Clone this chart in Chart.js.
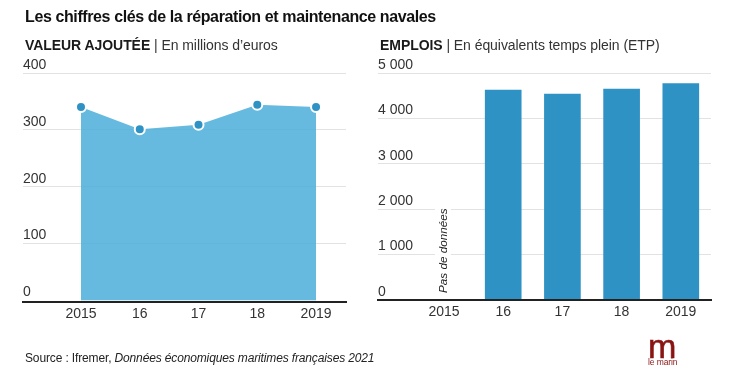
<!DOCTYPE html>
<html lang="fr">
<head>
<meta charset="utf-8">
<script src="https://cdn.jsdelivr.net/npm/chart.js@4/dist/chart.umd.min.js"></script>
<style>
html, body { margin: 0; padding: 0; background: #fff; }
body { width: 730px; height: 374px; position: relative; overflow: hidden; font-family: "Liberation Sans", Arial, sans-serif; }
canvas { position: absolute; top: 0; }
#chartValeur { left: 0; }
#chartEmplois { left: 365px; }
.txt { position: absolute; white-space: nowrap; z-index: 2; }
#title { left: 25px; top: 8px; font-size: 16px; font-weight: bold; color: #111; letter-spacing: -0.39px; }
.sub { top: 37px; font-size: 14px; color: #333; letter-spacing: -0.06px; }
.sub b { color: #1a1a1a; }
#source { left: 25px; top: 351px; font-size: 12px; color: #222; letter-spacing: -0.14px; }
#logoM { left: 648px; top: 330px; font-size: 34px; line-height: 32px; color: #8a1414; -webkit-text-stroke: 0.6px #8a1414; }
#logoT { left: 648px; top: 357px; font-size: 8.5px; line-height: 10px; color: #8a1414; letter-spacing: -0.1px; }
</style>
</head>
<body>
<div class="txt" id="title">Les chiffres clés de la réparation et maintenance navales</div>
<div class="txt sub" style="left:25px"><b>VALEUR AJOUTÉE</b> | En millions d’euros</div>
<div class="txt sub" style="left:380px"><b>EMPLOIS</b> | En équivalents temps plein (ETP)</div>
<div class="txt" id="source">Source : Ifremer, <i>Données économiques maritimes françaises 2021</i></div>
<div class="txt" id="logoM">m</div>
<div class="txt" id="logoT">le marin</div>
<canvas id="chartValeur" width="365" height="374"></canvas>
<canvas id="chartEmplois" width="365" height="374"></canvas>
<script>
var years = [2015, 2016, 2017, 2018, 2019]
var yearLabels = ['2015', '16', '17', '18', '2019']
var valeurAjoutee = [340, 301, 309, 344, 340]
var emplois = [null, 4626, 4537, 4648, 4765]
var valeurTicks = [0, 100, 200, 300, 400]
var valeurTickLabels = ['0', '100', '200', '300', '400']
var emploisTicks = [0, 1000, 2000, 3000, 4000, 5000]
var emploisTickLabels = ['0', '1 000', '2 000', '3 000', '4 000', '5 000']

Chart.defaults.font.family = '"Liberation Sans", Arial, sans-serif'
Chart.defaults.animation = false

function xAxis(min, max) {
    return {
        type: 'linear',
        offset: false,
        min: min,
        max: max,
        afterBuildTicks: function (scale) {
            scale.ticks = years.map(function (y) { return { value: y } })
        },
        afterFit: function (scale) { scale.height = 25 },
        grid: { display: false, drawTicks: false, offset: false },
        border: { display: true, color: '#222', width: 2, z: 2 },
        ticks: {
            autoSkip: false,
            maxRotation: 0,
            padding: 4,
            color: '#333',
            font: { size: 14 },
            callback: function (value, i) { return yearLabels[i] }
        }
    }
}

function yAxis(min, max, tickValues, tickLabels, labelOffset) {
    return {
        min: min,
        max: max,
        afterBuildTicks: function (scale) {
            scale.ticks = tickValues.map(function (v) { return { value: v } })
        },
        grid: {
            drawTicks: false,
            color: function (c) { return c.tick.value == 0 ? 'rgba(0,0,0,0)' : '#e2e2e2' }
        },
        border: { display: false },
        ticks: {
            mirror: true,
            padding: 0,
            labelOffset: labelOffset,
            color: '#333',
            font: { size: 14 },
            callback: function (value, i) { return tickLabels[i] }
        }
    }
}

var basePlugins = { legend: { display: false }, tooltip: { enabled: false } }

new Chart(document.getElementById('chartValeur').getContext('2d'), {
    type: 'line',
    data: {
        datasets: [{
            data: years.map(function (y, i) { return { x: y, y: valeurAjoutee[i] } }),
            fill: 'origin',
            tension: 0,
            borderWidth: 0,
            borderColor: 'rgba(0,0,0,0)',
            backgroundColor: 'rgba(75,174,217,0.85)',
            pointRadius: 5,
            pointBorderWidth: 2,
            pointBackgroundColor: '#2f92c5',
            pointBorderColor: '#fff'
        }]
    },
    options: {
        responsive: false,
        layout: { padding: { top: 73, left: 23, right: 19, bottom: 47 } },
        plugins: basePlugins,
        scales: {
            x: xAxis(2014.013, 2019.51),
            y: yAxis(-3, 400, valeurTicks, valeurTickLabels, -8)
        }
    }
})

// texte vertical pour l'annee sans donnees
var pasDeDonnees = {
    id: 'pasDeDonnees',
    afterDatasetsDraw: function (chart) {
        var ctx = chart.ctx
        var x = chart.scales.x.getPixelForValue(2015)
        ctx.save()
        ctx.translate(x + 3, 293)
        ctx.rotate(-Math.PI / 2)
        ctx.font = 'italic 11.7px "Liberation Sans", Arial, sans-serif'
        var w = ctx.measureText('Pas de données').width
        ctx.fillStyle = '#fff'
        ctx.fillRect(0, -12, w, 16)
        ctx.fillStyle = '#222'
        ctx.textAlign = 'left'
        ctx.textBaseline = 'alphabetic'
        ctx.fillText('Pas de données', 0, 0)
        ctx.restore()
    }
}

new Chart(document.getElementById('chartEmplois').getContext('2d'), {
    type: 'bar',
    data: {
        datasets: [{
            data: years.map(function (y, i) { return { x: y, y: emplois[i] } }),
            backgroundColor: '#2f92c5',
            barThickness: 36
        }]
    },
    plugins: [pasDeDonnees],
    options: {
        responsive: false,
        layout: { padding: { top: 73, left: 13, right: 19, bottom: 49 } },
        plugins: basePlugins,
        scales: {
            x: xAxis(2013.885, 2019.51),
            y: yAxis(0, 5000, emploisTicks, emploisTickLabels, -8)
        }
    }
})
</script>
</body>
</html>
